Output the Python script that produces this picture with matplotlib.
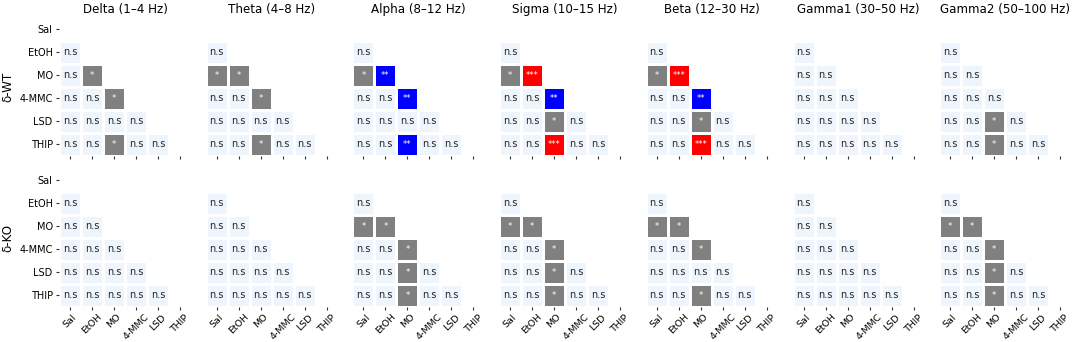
import numpy as np
import matplotlib
matplotlib.use("Agg")
import matplotlib.pyplot as plt
from matplotlib.colors import ListedColormap, BoundaryNorm

drugs = ["Sal", "EtOH", "MO", "4-MMC", "LSD", "THIP"]
bands = ["Delta (1–4 Hz)", "Theta (4–8 Hz)", "Alpha (8–12 Hz)", "Sigma (10–15 Hz)",
         "Beta (12–30 Hz)", "Gamma1 (30–50 Hz)", "Gamma2 (50–100 Hz)"]
genotypes = ["δ-WT", "δ-KO"]

# lower-triangle significance labels, row by row (EtOH, MO, 4-MMC, LSD, THIP)
wt_delta = [["n.s"], ["n.s", "*"], ["n.s", "n.s", "*"], ["n.s", "n.s", "n.s", "n.s"], ["n.s", "n.s", "*", "n.s", "n.s"]]
wt_theta = [["n.s"], ["*", "*"], ["n.s", "n.s", "*"], ["n.s", "n.s", "n.s", "n.s"], ["n.s", "n.s", "*", "n.s", "n.s"]]
wt_alpha = [["n.s"], ["*", "**"], ["n.s", "n.s", "**"], ["n.s", "n.s", "n.s", "n.s"], ["n.s", "n.s", "**", "n.s", "n.s"]]
wt_sigma = [["n.s"], ["*", "***"], ["n.s", "n.s", "**"], ["n.s", "n.s", "*", "n.s"], ["n.s", "n.s", "***", "n.s", "n.s"]]
wt_beta = [["n.s"], ["*", "***"], ["n.s", "n.s", "**"], ["n.s", "n.s", "*", "n.s"], ["n.s", "n.s", "***", "n.s", "n.s"]]
wt_gamma1 = [["n.s"], ["n.s", "n.s"], ["n.s", "n.s", "n.s"], ["n.s", "n.s", "n.s", "n.s"], ["n.s", "n.s", "n.s", "n.s", "n.s"]]
wt_gamma2 = [["n.s"], ["n.s", "n.s"], ["n.s", "n.s", "n.s"], ["n.s", "n.s", "*", "n.s"], ["n.s", "n.s", "*", "n.s", "n.s"]]

ko_delta = [["n.s"], ["n.s", "n.s"], ["n.s", "n.s", "n.s"], ["n.s", "n.s", "n.s", "n.s"], ["n.s", "n.s", "n.s", "n.s", "n.s"]]
ko_theta = [["n.s"], ["n.s", "n.s"], ["n.s", "n.s", "n.s"], ["n.s", "n.s", "n.s", "n.s"], ["n.s", "n.s", "n.s", "n.s", "n.s"]]
ko_alpha = [["n.s"], ["*", "*"], ["n.s", "n.s", "*"], ["n.s", "n.s", "*", "n.s"], ["n.s", "n.s", "*", "n.s", "n.s"]]
ko_sigma = [["n.s"], ["*", "*"], ["n.s", "n.s", "*"], ["n.s", "n.s", "*", "n.s"], ["n.s", "n.s", "*", "n.s", "n.s"]]
ko_beta = [["n.s"], ["*", "*"], ["n.s", "n.s", "*"], ["n.s", "n.s", "n.s", "n.s"], ["n.s", "n.s", "*", "n.s", "n.s"]]
ko_gamma1 = [["n.s"], ["n.s", "n.s"], ["n.s", "n.s", "n.s"], ["n.s", "n.s", "n.s", "n.s"], ["n.s", "n.s", "n.s", "n.s", "n.s"]]
ko_gamma2 = [["n.s"], ["*", "*"], ["n.s", "n.s", "*"], ["n.s", "n.s", "*", "n.s"], ["n.s", "n.s", "*", "n.s", "n.s"]]

wt_all = [wt_delta, wt_theta, wt_alpha, wt_sigma, wt_beta, wt_gamma1, wt_gamma2]
ko_all = [ko_delta, ko_theta, ko_alpha, ko_sigma, ko_beta, ko_gamma1, ko_gamma2]

levels = ["n.s", "*", "**", "***"]
level_colors = ["#eef5fd", "#808080", "#0000ff", "#ff0000"]
text_colors = ["#262626", "white", "white", "white"]
text_sizes = [7, 6, 6, 6]

cmap = ListedColormap(level_colors)
norm = BoundaryNorm([-0.5, 0.5, 1.5, 2.5, 3.5], cmap.N)

W, H = 1072, 342
fig = plt.figure(figsize=(W / 100, H / 100), dpi=100)

n = len(drugs)
left0, step, aw = 59, 146.7, 132
row_tops = [17.5, 168.5]
ah = 138.5

for r, data in enumerate([wt_all, ko_all]):
    for c, cells in enumerate(data):
        x0 = left0 + c * step
        ax = fig.add_axes([x0 / W, 1 - (row_tops[r] + ah) / H, aw / W, ah / H])
        M = np.full((n, n), np.nan)
        for i, row in enumerate(cells, start=1):
            for j, lab in enumerate(row):
                M[i, j] = levels.index(lab)
        Mm = np.ma.masked_invalid(M)
        ax.pcolormesh(np.arange(n + 1), np.arange(n + 1), Mm, cmap=cmap, norm=norm,
                      edgecolors="white", linewidth=1)
        for i in range(n):
            for j in range(n):
                if not np.isnan(M[i, j]):
                    k = int(M[i, j])
                    ax.text(j + 0.5, i + 0.5, levels[k], ha="center", va="center",
                            color=text_colors[k], fontsize=text_sizes[k])
        ax.set_xlim(0, n)
        ax.set_ylim(n, 0)
        for s in ax.spines.values():
            s.set_visible(False)
        ax.set_xticks(np.arange(n) + 0.5)
        ax.tick_params(axis="x", length=2.5, width=0.8, color="#333333", labelsize=6.8, pad=1.5)
        if r == 1:
            ax.set_xticklabels(drugs, rotation=45, ha="center")
        else:
            ax.set_xticklabels([])
        if c == 0:
            ax.set_yticks(np.arange(n) + 0.5)
            ax.set_yticklabels(drugs, fontsize=7)
            ax.tick_params(axis="y", length=2.5, width=0.8, color="#333333", pad=2)
        else:
            ax.set_yticks([])
        if r == 0:
            ax.set_title(bands[c], fontsize=8.6, pad=3)
    fig.text(8 / W, 1 - (row_tops[r] + ah / 2) / H, genotypes[r], rotation=90,
             ha="center", va="center", fontsize=8.6)

fig.savefig("out.png", dpi=100)
